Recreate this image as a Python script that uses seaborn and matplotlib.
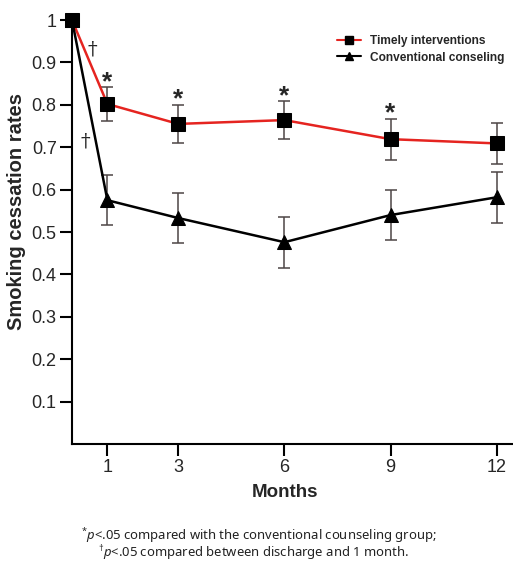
import matplotlib
matplotlib.use("Agg")
import matplotlib.pyplot as plt
from matplotlib.lines import Line2D
import seaborn as sns
import pandas as pd

months = [0, 1, 3, 6, 9, 12]
xtick_vals = [1, 3, 6, 9, 12]
ytick_vals = [0.1, 0.2, 0.3, 0.4, 0.5, 0.6, 0.7, 0.8, 0.9, 1.0]
ytick_labels = ["0.1", "0.2", "0.3", "0.4", "0.5", "0.6", "0.7", "0.8", "0.9", "1"]

timely = [1.0, 0.802, 0.755, 0.764, 0.719, 0.709]
timely_err = [0.0, 0.040, 0.045, 0.045, 0.048, 0.048]
conv = [1.0, 0.575, 0.533, 0.476, 0.540, 0.582]
conv_err = [0.0, 0.059, 0.060, 0.060, 0.060, 0.060]

star_months = [1, 3, 6, 9]
labels = ["Timely interventions", "Conventional conseling"]

sns.set_style("ticks")
plt.rcParams["font.family"] = ["Liberation Sans", "DejaVu Sans"]
plt.rcParams["mathtext.fontset"] = "custom"
plt.rcParams["mathtext.rm"] = "Noto Sans"
plt.rcParams["mathtext.it"] = "Noto Sans:italic"

df = pd.DataFrame({
    "month": months + months,
    "rate": timely + conv,
    "group": [labels[0]] * len(months) + [labels[1]] * len(months),
})

fig = plt.figure(figsize=(5.13, 5.63), dpi=100)
ax = fig.add_axes([72 / 513, 1 - 444 / 563, (512 - 72) / 513, (444 - 15.8) / 563])

RED = "#e52420"
sns.lineplot(data=df, x="month", y="rate", hue="group", style="group",
             palette={labels[0]: RED, labels[1]: "black"},
             markers={labels[0]: "s", labels[1]: "^"}, dashes=False,
             linewidth=1.8, markersize=10, ax=ax, legend=False, zorder=3)
for ln in ax.get_lines():
    ln.set_markerfacecolor("black")
    ln.set_markeredgecolor("black")
    ln.set_clip_on(False)

errc = "#4d4545"
for vals, errs in [(timely, timely_err), (conv, conv_err)]:
    ax.errorbar(months[1:], vals[1:], yerr=errs[1:], fmt="none", ecolor=errc,
                elinewidth=1.1, capsize=4, capthick=1.1, zorder=2)

for m in star_months:
    i = months.index(m)
    ax.annotate("*", (m, timely[i] + timely_err[i]), xytext=(0, -5),
                textcoords="offset points", ha="center", va="bottom",
                fontsize=19, fontweight="bold")

ax.text(0.565, 0.93, "\u2020", fontsize=14, ha="center", va="center",
        family=["DejaVu Serif"])
ax.text(0.37, 0.714, "\u2020", fontsize=14, ha="center", va="center",
        family=["DejaVu Serif"])

ax.set_xlim(0, 12.43)
ax.set_ylim(0, 1.01)
ax.set_xticks(xtick_vals)
ax.set_xticklabels([str(v) for v in xtick_vals])
ax.set_yticks(ytick_vals)
ax.set_yticklabels(ytick_labels)
ax.tick_params(axis="both", labelsize=13, width=1.5, length=8.5, color="black", pad=2.5)
for s in ["top", "right"]:
    ax.spines[s].set_visible(False)
for s in ["left", "bottom"]:
    ax.spines[s].set_linewidth(1.5)
    ax.spines[s].set_color("black")

ax.set_xlabel("Months", fontsize=13.5, fontweight="bold")
ax.set_ylabel("Smoking cessation rates", fontsize=14.5, fontweight="bold")
ax.xaxis.set_label_coords(0.484, -0.093)
ax.yaxis.set_label_coords(-0.104, 0.542)

handles = [
    Line2D([], [], color=RED, lw=1.5, marker="s", markersize=6,
           markerfacecolor="black", markeredgecolor="black"),
    Line2D([], [], color="black", lw=1.5, marker="^", markersize=6,
           markerfacecolor="black", markeredgecolor="black"),
]
fig.legend(handles, labels, loc="upper left",
           bbox_to_anchor=(337 / 513, 1 - 35 / 563), bbox_transform=fig.transFigure,
           frameon=False, prop={"weight": "bold", "size": 8.6},
           handlelength=2.0, handletextpad=0.75, labelspacing=0.38,
           borderpad=0, borderaxespad=0)

fig.text(81 / 513, 1 - 536 / 563,
         r"$^{*}\mathit{p}$<.05 compared with the conventional counseling group;",
         fontsize=9.4, family=["Noto Sans"], ha="left", va="center", color="#222222")
fig.text(98 / 513, 1 - 553 / 563,
         r"$^{\dagger}\mathit{p}$<.05 compared between discharge and 1 month.",
         fontsize=9.4, family=["Noto Sans"], ha="left", va="center", color="#222222")

fig.savefig("out.png", dpi=100)
